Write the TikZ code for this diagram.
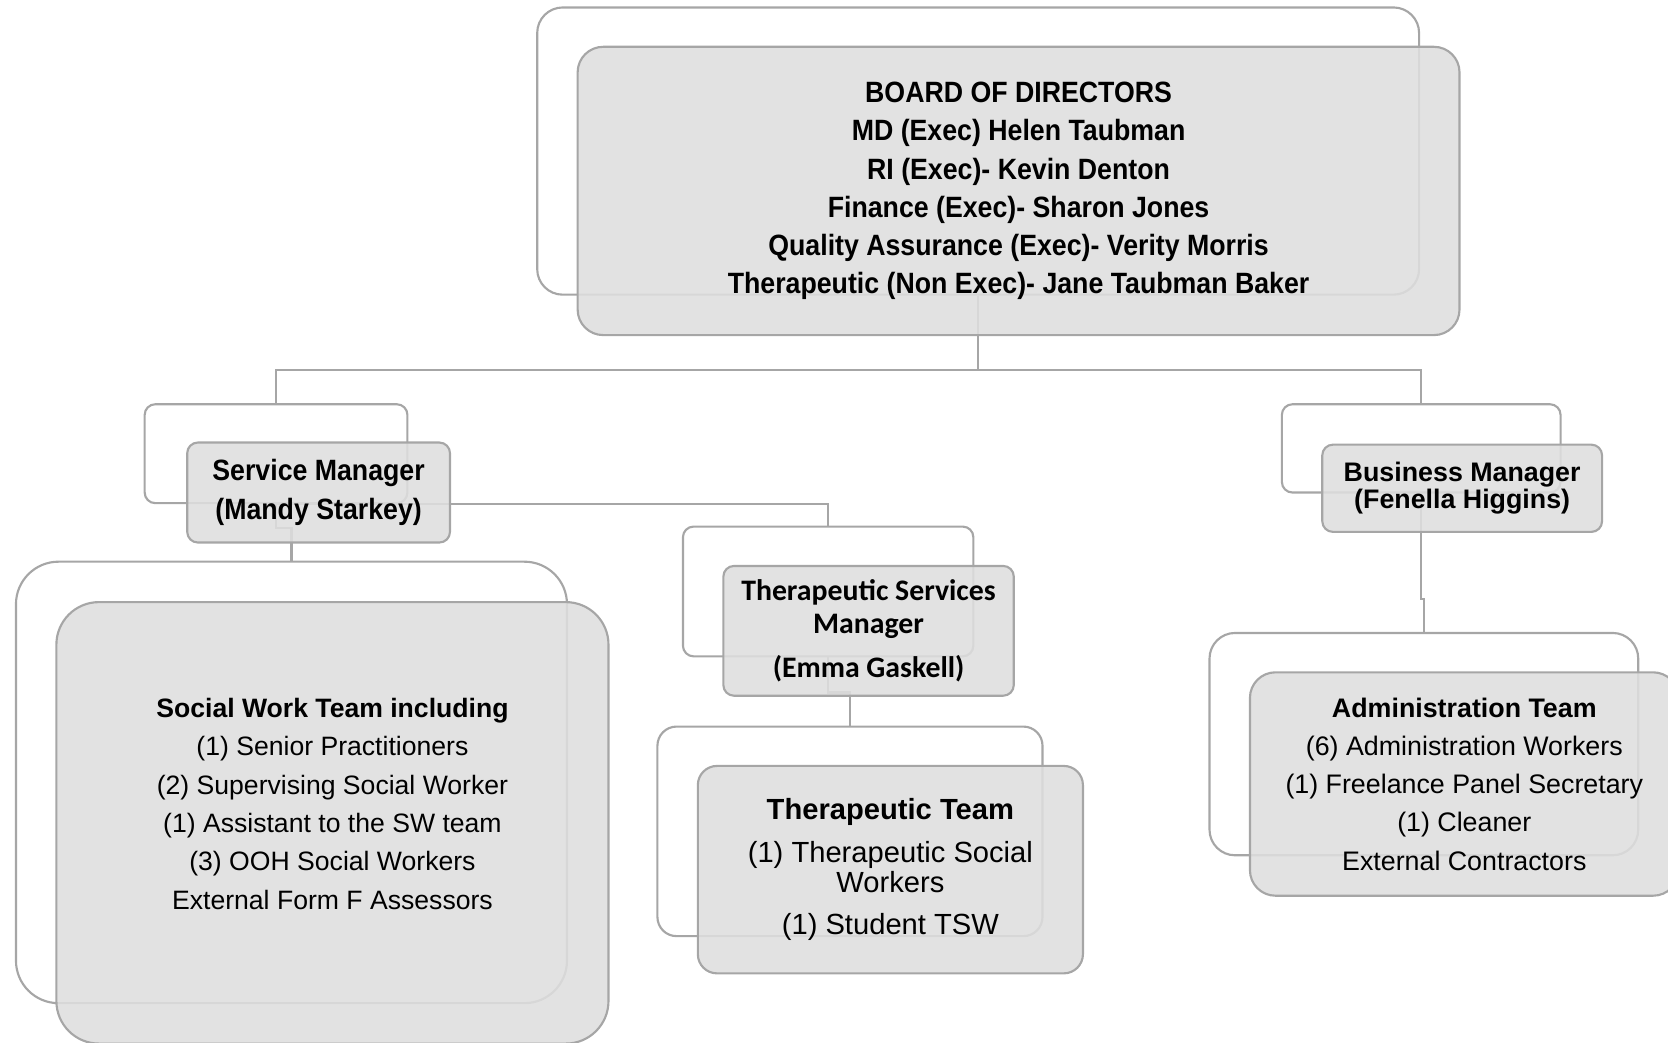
\documentclass[tikz,border=0pt]{standalone}
\usepackage{fontspec}
\setmainfont{Liberation Sans}
\newfontfamily\tallfont[FakeStretch=0.91]{Liberation Sans}
\newfontfamily\calfont{Carlito}
\definecolor{linegray}{HTML}{A6A6A6}
\definecolor{boxgray}{HTML}{DEDEDE}

\tikzset{
  backbox/.style={draw=linegray, line width=1pt, fill=white, inner sep=0pt},
  frontbox/.style={draw=linegray, line width=1pt, fill=boxgray, fill opacity=0.88,
    text opacity=1, inner sep=0pt, align=center},
  link/.style={draw=linegray, line width=1pt}
}

\begin{document}
\begin{tikzpicture}[x=0.5pt, y=-0.5pt]
          \useasboundingbox (0,0) rectangle (1568,980);
          % back frames
          \node[backbox, rounded corners=12pt, minimum width=414.5pt, minimum height=135pt] (boardback) at (919.5,142) {};
          \node[backbox, rounded corners=5pt, minimum width=123.5pt, minimum height=46.5pt] (smback) at (259.5,426.5) {};
          \node[backbox, rounded corners=5pt, minimum width=131pt, minimum height=41.5pt] (bmback) at (1336,421.5) {};
          \node[backbox, rounded corners=5pt, minimum width=136.5pt, minimum height=61pt] (tsmback) at (778.5,556) {};
          \node[backbox, rounded corners=20pt, minimum width=259pt, minimum height=207.5pt] (swback) at (274,735.5) {};
          \node[backbox, rounded corners=9pt, minimum width=181pt, minimum height=98.5pt] (ttback) at (799,781.5) {};
          \node[backbox, rounded corners=12pt, minimum width=201.5pt, minimum height=104.5pt] (adback) at (1338.5,699.5) {};
          % connectors
          \draw[link] (boardback.south) -- ++(0,70) -| (smback.north);
          \draw[link] (boardback.south) -- ++(0,70) -| (bmback.north);
          \draw[link] (smback.south) -| (tsmback.north);
          \draw[link] (smback.south) -- ++(0,22) -| (swback.north);
          \draw[link] (tsmback.south) -- ++(0,33) -| (ttback.north);
          \draw[link] (bmback.south) -- ++(0,99) -| (adback.north);
          % front boxes
          \node[frontbox, rounded corners=12pt, minimum width=414.5pt, minimum height=135.5pt,
            font={\tallfont\bfseries\fontsize{13.8pt}{18pt}\selectfont}] (board) at (957.5,179.5)
            {BOARD OF DIRECTORS\\ MD (Exec) Helen Taubman\\ RI (Exec)- Kevin Denton\\
             Finance (Exec)- Sharon Jones\\ Quality Assurance (Exec)- Verity Morris\\
             Therapeutic (Non Exec)- Jane Taubman Baker};
          \node[frontbox, rounded corners=5pt, minimum width=123.5pt, minimum height=47pt,
            font={\tallfont\bfseries\fontsize{13.8pt}{18pt}\selectfont}] (sm) at (299.5,463)
            {Service Manager\\ (Mandy Starkey)};
          \node[frontbox, rounded corners=5pt, minimum width=131.5pt, minimum height=41pt,
            font={\bfseries\fontsize{12.6pt}{13pt}\selectfont}] (bm) at (1374.5,459)
            {Business Manager\\ (Fenella Higgins)};
          \node[frontbox, rounded corners=5pt, minimum width=136.5pt, minimum height=61pt,
            font={\calfont\bfseries\fontsize{14pt}{15.5pt}\selectfont}] (tsm) at (816.5,593)
            {Therapeutic Services\\ Manager\\[5.5pt] (Emma Gaskell)};
          \node[frontbox, rounded corners=20pt, minimum width=259.5pt, minimum height=207.5pt,
            font={\fontsize{12.5pt}{18pt}\selectfont}] (sw) at (312.5,773.5)
            {{\bfseries Social Work Team including}\\ (1) Senior Practitioners\\
             (2) Supervising Social Worker\\ (1) Assistant to the SW team\\
             (3) OOH Social Workers\\ External Form F Assessors\\ \mbox{}};
          \node[frontbox, rounded corners=9pt, minimum width=181pt, minimum height=97.5pt,
            font={\fontsize{13.7pt}{14pt}\selectfont}] (tt) at (837,817.5)
            {{\bfseries Therapeutic Team}\\[6pt] (1) Therapeutic Social\\ Workers\\[6pt] (1) Student TSW};
          \node[frontbox, rounded corners=12pt, minimum width=201.5pt, minimum height=105pt,
            font={\fontsize{12.6pt}{18pt}\selectfont}] (ad) at (1376.5,737)
            {{\bfseries Administration Team}\\ (6) Administration Workers\\
             (1) Freelance Panel Secretary\\ (1) Cleaner\\ External Contractors};
        \end{tikzpicture}
\end{document}
